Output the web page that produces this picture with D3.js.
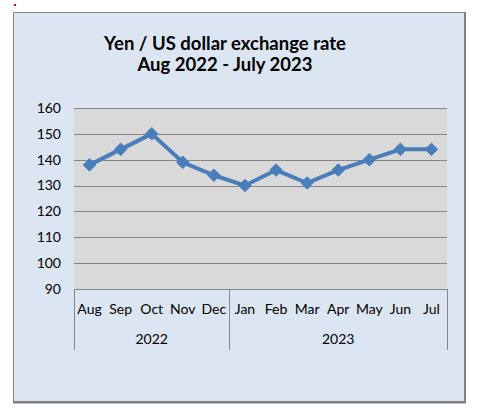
<!DOCTYPE html>
<html>
<head>
<meta charset="utf-8">
<script src="https://cdn.jsdelivr.net/npm/d3@7"></script>
<style>
  body { margin: 0; background: #fff; }
  svg { display: block; }
</style>
</head>
<body>
<div id="chart"></div>
<script>
// Chart data
var months = ["Aug", "Sep", "Oct", "Nov", "Dec", "Jan", "Feb", "Mar", "Apr", "May", "Jun", "Jul"];
var rates = [138, 144, 150, 139, 134, 130, 136, 131, 136, 140, 144, 144];
var years = ["2022", "2023"];
var yearSpans = [5, 7]; // number of months in each year group
var yTicks = [90, 100, 110, 120, 130, 140, 150, 160];
var titleLines = ["Yen / US dollar exchange rate", "Aug 2022 - July 2023"];

var width = 479, height = 416;
var fontFamily = "Lato, 'Open Sans', sans-serif";

var svg = d3.select("#chart").append("svg")
    .attr("width", width)
    .attr("height", height);

// little red mark at top left
svg.append("rect")
    .attr("x", 14).attr("y", 4)
    .attr("width", 2).attr("height", 2)
    .attr("fill", "#e00000");

// outer chart box
svg.append("rect")
    .attr("x", 13.5).attr("y", 12.5)
    .attr("width", 452).attr("height", 389)
    .attr("fill", "#dce6f2")
    .attr("stroke", "#858585")
    .attr("stroke-width", 1);
// darker shadow edge right / bottom
svg.append("path")
    .attr("d", "M465,12V402.5H13")
    .attr("fill", "none")
    .attr("stroke", "#7f7f7f")
    .attr("stroke-width", 2);

// Title
var title = svg.append("text")
    .attr("text-anchor", "middle")
    .style("font-family", fontFamily)
    .style("font-weight", "bold")
    .style("font-size", "18.5px")
    .attr("fill", "#000");
title.selectAll("tspan")
    .data(titleLines)
    .enter().append("tspan")
    .attr("x", 225)
    .attr("y", function(d, i) { return 50 + i * 21; })
    .text(function(d) { return d; });

var plot = { left: 74, right: 447, top: 108, bottom: 289 };

var x = d3.scaleBand()
    .domain(months)
    .range([plot.left, plot.right])
    .padding(0);

var y = d3.scaleLinear()
    .domain([90, 160])
    .range([plot.bottom, plot.top]);

// plot area
svg.append("rect")
    .attr("x", plot.left).attr("y", plot.top)
    .attr("width", plot.right - plot.left)
    .attr("height", plot.bottom - plot.top)
    .attr("fill", "#d9d9d9");

// gridlines
svg.append("g")
    .selectAll("line")
    .data(yTicks)
    .enter().append("line")
    .attr("x1", plot.left).attr("x2", plot.right)
    .attr("y1", function(d) { return Math.round(y(d)) + 0.5; })
    .attr("y2", function(d) { return Math.round(y(d)) + 0.5; })
    .attr("stroke", "#868686")
    .attr("stroke-width", 1);

// y axis labels
svg.append("g")
    .selectAll("text")
    .data(yTicks)
    .enter().append("text")
    .attr("x", 61)
    .attr("y", function(d) { return y(d); })
    .attr("dy", "0.35em")
    .attr("text-anchor", "end")
    .style("font-family", fontFamily)
    .style("font-size", "14px")
    .attr("fill", "#000")
    .text(function(d) { return d; });

// category axis separators (year groups)
var bounds = [0];
yearSpans.forEach(function(n, i) { bounds.push(bounds[i] + n); });
svg.append("g")
    .selectAll("line")
    .data(bounds)
    .enter().append("line")
    .attr("x1", function(d) { return Math.round(plot.left + d * x.bandwidth()) + 0.5; })
    .attr("x2", function(d) { return Math.round(plot.left + d * x.bandwidth()) + 0.5; })
    .attr("y1", plot.bottom)
    .attr("y2", 350)
    .attr("stroke", "#868686");

// month labels
svg.append("g")
    .selectAll("text")
    .data(months)
    .enter().append("text")
    .attr("x", function(d) { return x(d) + x.bandwidth() / 2; })
    .attr("y", 314)
    .attr("text-anchor", "middle")
    .style("font-family", fontFamily)
    .style("font-size", "14px")
    .attr("fill", "#000")
    .text(function(d) { return d; });

// year labels
svg.append("g")
    .selectAll("text")
    .data(years)
    .enter().append("text")
    .attr("x", function(d, i) {
        return plot.left + (bounds[i] + bounds[i + 1]) / 2 * x.bandwidth();
    })
    .attr("y", 344)
    .attr("text-anchor", "middle")
    .style("font-family", fontFamily)
    .style("font-size", "14px")
    .attr("fill", "#000")
    .text(function(d) { return d; });

// series line
var line = d3.line()
    .x(function(d, i) { return x(months[i]) + x.bandwidth() / 2; })
    .y(function(d) { return y(d); });

svg.append("path")
    .datum(rates)
    .attr("d", line)
    .attr("fill", "none")
    .attr("stroke", "#4a7ebb")
    .attr("stroke-width", 4)
    .attr("stroke-linejoin", "round");

// diamond markers
var diamond = d3.symbol().type(d3.symbolDiamond2).size(100);
svg.append("g")
    .selectAll("path")
    .data(rates)
    .enter().append("path")
    .attr("d", diamond)
    .attr("transform", function(d, i) {
        return "translate(" + (x(months[i]) + x.bandwidth() / 2) + "," + y(d) + ")";
    })
    .attr("fill", "#4a7ebb")
    .attr("stroke", "#4a7ebb")
    .attr("stroke-width", 1);
</script>
</body>
</html>
